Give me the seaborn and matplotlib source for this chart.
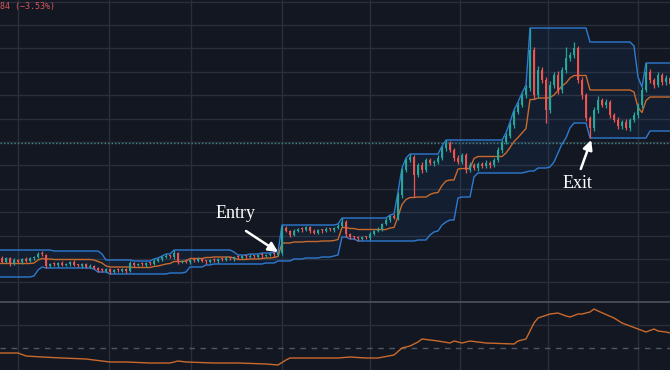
import numpy as np
import pandas as pd
import matplotlib
matplotlib.use('Agg')
import matplotlib.pyplot as plt
import seaborn as sns

# Precios de cierre por vela (las 16 primeras quedan fuera de la vista, sirven de arranque del canal)
closes = [39, 37, 35, 33, 35, 32, 34, 31, 33, 30, 37, 39, 43, 47, 51, 47,
          43, 47, 41, 45, 43, 46, 44, 47, 48, 51, 50, 39, 41, 40,
          42, 40, 41, 43, 40, 39, 41, 38, 39, 37, 35, 34, 36, 33, 35, 34, 36, 34,
          42, 40, 41, 40, 42, 41, 44, 46, 48, 49, 48, 52,
          43, 44, 43, 45, 44, 46, 44, 43, 45, 44, 46, 45, 47, 46, 48, 47, 49, 48, 49, 48, 50, 49, 50, 51, 50, 52,
          77, 74, 70, 74, 76, 75, 78, 74, 72, 75, 74, 76, 75, 77, 79, 83, 71, 68, 67, 66, 68, 67, 71, 74, 76, 81, 85, 89, 87,
          110, 135, 145, 148, 130, 140, 135, 145, 142, 143, 147, 157, 162, 155, 147, 143, 150, 135, 140, 137, 141, 139,
          142, 140, 145, 155, 163, 169, 180, 193, 200, 210, 217,
          255, 210, 235, 225, 195, 220, 230, 215, 235, 247, 250, 257, 225, 210, 187, 177, 195, 205, 200, 203, 190, 185,
          179, 183, 177, 185, 190, 200, 215, 233, 225, 220, 230, 223, 227, 221]

# Mechas superior e inferior de cada vela
wick_hi = [1, 2, 1, 1, 2, 1, 1, 2, 1, 1, 2, 1, 2, 1, 4, 1,
           2, 1, 1, 2, 1, 1, 2, 1, 1, 2, 3, 1, 1, 2,
           1, 2, 1, 1, 2, 1, 1, 1, 2, 1, 1, 2, 1, 1, 1, 2, 1, 1,
           2, 1, 1, 2, 1, 1, 2, 1, 1, 2, 1, 3,
           1, 1, 2, 1, 1, 2, 1, 1, 1, 2, 1, 1, 2, 1, 1, 2, 1, 1, 2, 1, 1, 2, 1, 1, 2, 1,
           3, 2, 1, 2, 1, 2, 1, 1, 2, 1, 1, 2, 1, 1, 2, 4, 2, 1, 1, 2, 1, 1, 2, 1, 2, 1, 2, 1, 2,
           3, 2, 2, 3, 2, 2, 3, 2, 2, 2, 3, 2, 3, 2, 2, 3, 2, 2, 3, 2, 2, 2, 3, 2, 2, 3, 2, 3, 3, 2, 3, 2, 3,
           22, 3, 4, 3, 3, 4, 3, 4, 3, 11, 3, 6, 2, 3, 2, 2, 3, 4, 2, 3, 2, 2, 3, 2, 3, 2, 3, 2, 3, 9, 3, 2, 3, 2, 3, 2]
wick_lo = [1, 2, 1, 2, 1, 1, 2, 1, 1, 2, 1, 2, 1, 1, 2, 1,
           1, 1, 2, 1, 1, 2, 1, 1, 2, 1, 1, 2, 1, 1,
           2, 1, 1, 2, 1, 1, 2, 1, 1, 1, 2, 1, 1, 2, 1, 1, 1, 2,
           1, 2, 1, 1, 2, 1, 1, 1, 2, 1, 1, 2,
           2, 1, 1, 2, 1, 1, 1, 2, 1, 1, 2, 1, 1, 1, 2, 1, 1, 2, 1, 1, 1, 2, 1, 1, 2, 1,
           2, 1, 2, 1, 1, 2, 1, 2, 1, 1, 2, 1, 1, 2, 1, 1, 3, 2, 1, 2, 1, 1, 2, 1, 1, 2, 1, 2, 1,
           2, 3, 2, 2, 22, 2, 3, 2, 2, 3, 2, 2, 3, 2, 3, 2, 2, 3, 2, 2, 3, 2, 2, 3, 2, 2, 3, 2, 2, 3, 2, 2, 3,
           3, 4, 3, 3, 13, 3, 3, 4, 3, 3, 3, 3, 3, 4, 3, 10, 3, 3, 2, 3, 3, 2, 3, 3, 2, 3, 2, 3, 3, 2, 3, 3, 2, 3, 3, 2]

# Indicador del panel inferior (vela, valor)
ind_bars = [15, 20, 22, 26, 31, 37, 43, 47, 53, 58, 60, 62, 69, 75, 82, 85, 87, 88, 94, 100, 103, 107, 110,
            114, 116, 118, 120, 121, 125, 128, 129, 131, 133, 137, 144, 145, 147, 149, 150, 153, 155, 157,
            158, 160, 161, 163, 164, 165, 169, 171, 173, 175, 177, 179, 180, 182, 183]
ind_vals = [17, 17, 14, 13, 12, 11, 8, 8, 7, 7, 9, 8, 7, 7, 6, 5, 10, 12, 12, 12, 13, 12, 12,
            15, 22, 24, 28, 31, 29, 27, 29, 27, 29, 27, 26, 29, 31, 47, 52, 56, 57, 54,
            53, 56, 56, 58, 61, 59, 52, 47, 44, 41, 38, 41, 39, 38, 37]

# Lineas de fecha (vela) y marcas
date_lines = [20, 42.75, 63.25, 86, 108, 130.5, 152.5, 175]
last_price = 162
entry_bar, entry_price = 85, 53
exit_bar, exit_price = 163.3, 165

period = 15

df = pd.DataFrame({'close': closes, 'wick_hi': wick_hi, 'wick_lo': wick_lo})
df['bar'] = np.arange(len(df))
df['open'] = df['close'].shift(1).fillna(df['close'].iloc[0])
df['high'] = df[['open', 'close']].max(axis=1) + df['wick_hi']
df['low'] = df[['open', 'close']].min(axis=1) - df['wick_lo']

# Canal de Donchian
df['upper'] = df['high'].rolling(period).max()
df['lower'] = df['low'].rolling(period).min()
df['basis'] = (df['upper'] + df['lower']) / 2
ch = df.dropna()

ind = pd.DataFrame({'bar': ind_bars, 'valor': ind_vals})

bg = '#131722'
grid = '#2a2e39'
up_c, dn_c = '#26a69a', '#ef5350'
band_c, basis_c = '#2e7ad1', '#c96a2c'

sns.set_style('dark')
fig = plt.figure(figsize=(6.7, 3.7), dpi=100, facecolor=bg)
ax = fig.add_axes([0, 69 / 370, 1, 301 / 370])
ax2 = fig.add_axes([0, 0, 1, 69 / 370])
for a in (ax, ax2):
    a.set_facecolor(bg)
    a.set_xlim(15.5, 183)
    for s in a.spines.values():
        s.set_visible(False)
    for d in date_lines:
        a.axvline(d, color=grid, lw=1, zorder=0)

ax.set_ylim(4, 305)
for p in np.arange(22.6, 310, 23.4):
    ax.axhline(p, color=grid, lw=1, zorder=0)

# Relleno y lineas del canal
ax.fill_between(ch['bar'], ch['lower'], ch['upper'], color='#2196f3', alpha=0.07, lw=0, zorder=1)
sns.lineplot(data=ch, x='bar', y='upper', ax=ax, color=band_c, lw=1, zorder=2)
sns.lineplot(data=ch, x='bar', y='lower', ax=ax, color=band_c, lw=1, zorder=2)
sns.lineplot(data=ch, x='bar', y='basis', ax=ax, color=basis_c, lw=1, zorder=2)

# Velas
colors = np.where(df['close'] >= df['open'], up_c, dn_c)
ax.vlines(df['bar'], df['low'], df['high'], colors=colors, lw=0.9, zorder=3)
body = (df['close'] - df['open']).where(lambda s: s.abs() >= 1.5, 1.5)
ax.bar(df['bar'], body, bottom=df['open'], width=0.7, color=colors, lw=0, zorder=4)

ax.axhline(last_price, color='#3f8a8a', lw=1, ls=(0, (1, 1.5)), zorder=2)

# Entrada y salida
arrow = dict(arrowstyle='-|>', color='white', lw=1.8, mutation_scale=14, shrinkA=0, shrinkB=0)
ax.annotate('', xy=(entry_bar, entry_price), xytext=(77, 74), arrowprops=arrow, zorder=6)
ax.text(74.5, 92, 'Entry', color='white', fontsize=13, family='Liberation Serif', ha='center', va='center')
ax.annotate('', xy=(exit_bar, exit_price), xytext=(160.7, 136), arrowprops=arrow, zorder=6)
ax.text(159.8, 122, 'Exit', color='white', fontsize=13, family='Liberation Serif', ha='center', va='center')

ax.set_xlabel('')
ax.set_ylabel('')
ax.set_xticks([])
ax.set_yticks([])

# Panel inferior
ax2.set_ylim(0, 69)
ax2.axhline(68, color='#4a4e59', lw=1.3, zorder=1)
ax2.axhline(45, color=grid, lw=1, zorder=0)
ax2.axhline(22, color='#4f5564', lw=1, ls=(0, (4, 4)), zorder=1)
sns.lineplot(data=ind, x='bar', y='valor', ax=ax2, color=basis_c, lw=1, zorder=3)
ax2.set_xlabel('')
ax2.set_ylabel('')
ax2.set_xticks([])
ax2.set_yticks([])

fig.text(0.0, 1 - 6 / 370, '84 (−3.53%)', color='#d9575a', fontsize=6, va='center', ha='left',
         family='DejaVu Sans Mono')

fig.savefig('out.png', dpi=100, facecolor=bg)
